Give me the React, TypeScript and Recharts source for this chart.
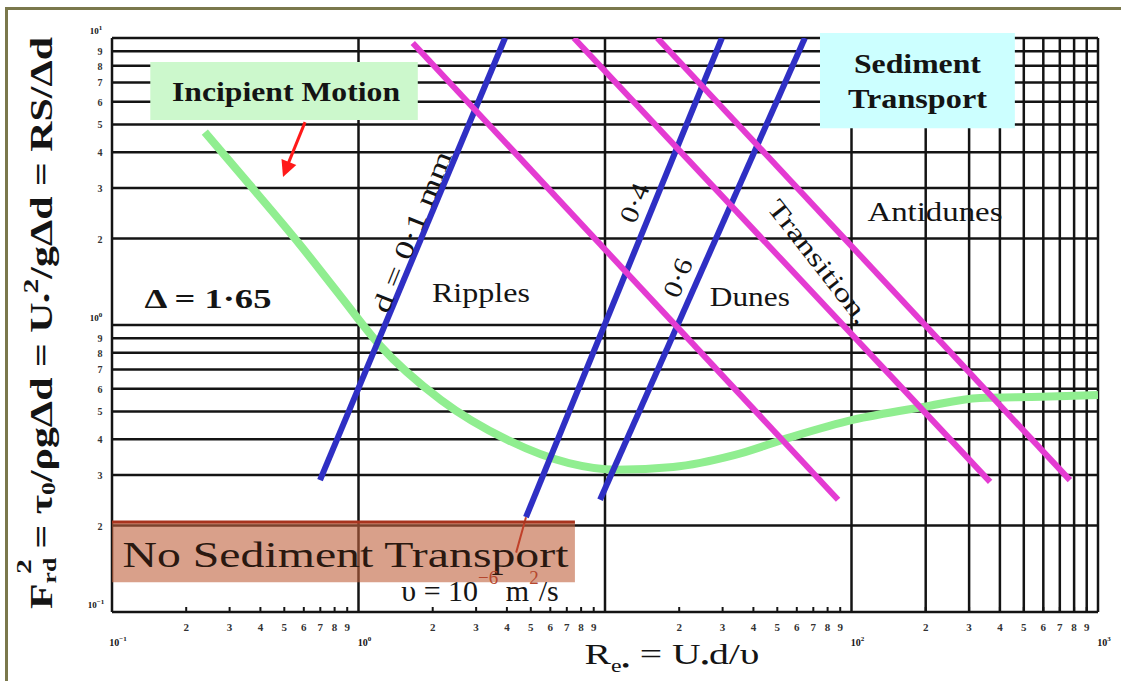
import {
  CartesianGrid,
  Label,
  Line,
  LineChart,
  ReferenceArea,
  ReferenceDot,
  ReferenceLine,
  XAxis,
  YAxis,
} from "recharts";

// log axis ticks (labels 2..9 per decade, 10^n at decades)
const X_TICKS = [
  0.1, 0.2, 0.3, 0.4, 0.5, 0.6, 0.7, 0.8, 0.9,
  1, 2, 3, 4, 5, 6, 7, 8, 9,
  10, 20, 30, 40, 50, 60, 70, 80, 90,
  100, 200, 300, 400, 500, 600, 700, 800, 900, 1000,
];
const Y_TICKS = [
  0.1, 0.2, 0.3, 0.4, 0.5, 0.6, 0.7, 0.8, 0.9,
  1, 2, 3, 4, 5, 6, 7, 8, 9, 10,
];
// gridlines printed on the original chart paper
const X_GRID = [0.1, 1, 10, 100, 200, 300, 400, 500, 600, 700, 800, 900, 1000];
const Y_GRID = Y_TICKS;

// incipient motion curve
const INCIPIENT = [
  { x: 0.238, y: 4.7 },
  { x: 0.363, y: 3.07 },
  { x: 0.58, y: 1.9 },
  { x: 0.84, y: 1.27 },
  { x: 1.22, y: 0.85 },
  { x: 2.16, y: 0.548 },
  { x: 4.04, y: 0.397 },
  { x: 7.14, y: 0.33 },
  { x: 11.1, y: 0.313 },
  { x: 18.9, y: 0.32 },
  { x: 33.4, y: 0.352 },
  { x: 56.9, y: 0.407 },
  { x: 101, y: 0.467 },
  { x: 195, y: 0.518 },
  { x: 332, y: 0.557 },
  { x: 593, y: 0.562 },
  { x: 1000, y: 0.57 },
];

// grain size lines (blue)
const D_01 = [{ x: 0.698, y: 0.288 }, { x: 3.93, y: 10 }];
const D_04 = [{ x: 4.78, y: 0.214 }, { x: 29.8, y: 10 }];
const D_06 = [{ x: 9.55, y: 0.246 }, { x: 64.7, y: 10 }];
const NU_LEADER = [{ x: 4.78, y: 0.214 }, { x: 4.36, y: 0.161 }];

// bedform boundaries (magenta)
const RIPPLE_DUNE = [{ x: 1.66, y: 9.61 }, { x: 88.2, y: 0.246 }];
const DUNE_TRANS = [{ x: 7.48, y: 10 }, { x: 365, y: 0.284 }];
const TRANS_ANTI = [{ x: 16.3, y: 10 }, { x: 769, y: 0.288 }];

const SERIF = '"Liberation Serif", "Times New Roman", serif';
const INK = "#141414";
const BLUE = "#2f2fc4";
const PINK = "#e43bd2";
const GREEN = "#90ee90";
const RUST = "#b5472e";

function decade(v: number) {
  const e = Math.floor(Math.log10(v) + 1e-9);
  const m = Math.round(v / Math.pow(10, e));
  return { e, m };
}

function XTick({ x, y, payload }: any) {
  const { e, m } = decade(payload.value);
  if (m === 1) {
    if (e === 1) return <g />;
    return (
      <text x={x + 6} y={y + 34} fontFamily={SERIF} fontSize={10} fontWeight="bold" fill={INK} textAnchor="middle">
        10
        <tspan dy={-5} fontSize={7}>{e < 0 ? "−1" : e}</tspan>
      </text>
    );
  }
  return (
    <g>
      <line x1={x} x2={x} y1={y - 5} y2={y} stroke={INK} strokeWidth={2} />
      <text x={x} y={y + 19} fontFamily={SERIF} fontSize={11} fontWeight="bold" fill="#333" textAnchor="middle">
        {m}
      </text>
    </g>
  );
}

function YTick({ x, y, payload }: any) {
  const { e, m } = decade(payload.value);
  if (m === 1) {
    return (
      <text x={x - 16} y={y - 4} fontFamily={SERIF} fontSize={9} fontWeight="bold" fill={INK} textAnchor="middle">
        10
        <tspan dy={-4} fontSize={7}>{e < 0 ? "−1" : e}</tspan>
      </text>
    );
  }
  return (
    <text x={x - 12} y={y + 4} fontFamily={SERIF} fontSize={10} fontWeight="bold" fill="#333" textAnchor="middle">
      {m}
    </text>
  );
}

function note(
  key: string,
  x: number,
  y: number,
  text: string,
  size: number,
  length: number,
  opts: { bold?: boolean; rotate?: number } = {}
) {
  return (
    <ReferenceDot
      key={key}
      x={x}
      y={y}
      r={1}
      ifOverflow="visible"
      shape={(p: any) => (
        <text
          x={p.cx}
          y={p.cy}
          textAnchor="middle"
          dominantBaseline="central"
          fontFamily={SERIF}
          fontSize={size}
          fontWeight={opts.bold ? "bold" : "normal"}
          fill={INK}
          textLength={length}
          lengthAdjust="spacingAndGlyphs"
          transform={opts.rotate ? `rotate(${opts.rotate} ${p.cx} ${p.cy})` : undefined}
        >
          {text}
        </text>
      )}
    />
  );
}

export default function App() {
  return (
    <div style={{ position: "absolute", left: 0, top: 0, width: 1121, height: 681, background: "#fff", overflow: "hidden" }}>
      <div
        style={{
          position: "absolute",
          left: 5,
          top: 7,
          width: 1200,
          height: 800,
          borderLeft: "3px solid #7a784c",
          borderTop: "3px solid #7a784c",
        }}
      />
      <div style={{ position: "absolute", left: 0, top: 0 }}>
        <LineChart width={1121} height={681} margin={{ top: 38, right: 23, bottom: 29, left: 72 }}>
          <CartesianGrid
            horizontalValues={Y_GRID}
            verticalValues={X_GRID}
            stroke={INK}
            strokeWidth={2.5}
            strokeDasharray=""
          />
          <XAxis
            dataKey="x"
            type="number"
            scale="log"
            domain={[0.1, 1000]}
            allowDataOverflow
            ticks={X_TICKS}
            interval={0}
            tick={<XTick />}
            tickLine={false}
            axisLine={false}
            tickSize={0}
            tickMargin={0}
            height={40}
          >
            <Label
              content={(p: any) => (
                <text
                  x={p.viewBox.x + 560}
                  y={p.viewBox.y + 52}
                  textAnchor="middle"
                  fontFamily={SERIF}
                  fontSize={30}
                  fill={INK}
                  textLength={175}
                  lengthAdjust="spacingAndGlyphs"
                >
                  R
                  <tspan dy={8} fontSize={18}>e•</tspan>
                  <tspan dy={-8}> = U</tspan>
                  <tspan dy={5} fontSize={18}>•</tspan>
                  <tspan dy={-5}>d/υ</tspan>
                </text>
              )}
            />
          </XAxis>
          <YAxis
            dataKey="y"
            type="number"
            scale="log"
            domain={[0.1, 10]}
            allowDataOverflow
            ticks={Y_TICKS}
            interval={0}
            tick={<YTick />}
            tickLine={false}
            axisLine={false}
            tickSize={0}
            tickMargin={0}
            width={40}
          >
            <Label
              content={(p: any) => {
                const cx = p.viewBox.x - 31;
                const cy = p.viewBox.y + p.viewBox.height / 2 - 2;
                return (
                  <text
                    x={cx}
                    y={cy}
                    textAnchor="middle"
                    dominantBaseline="central"
                    fontFamily={SERIF}
                    fontSize={31}
                    fontWeight="bold"
                    fill={INK}
                    textLength={572}
                    lengthAdjust="spacingAndGlyphs"
                    transform={`rotate(-90 ${cx} ${cy})`}
                  >
                    F
                    <tspan dy={8} fontSize={19}>rd</tspan>
                    <tspan dx={-12} dy={-26} fontSize={22}>2</tspan>
                    <tspan dy={18}>{"  =  τ"}</tspan>
                    <tspan dy={7} fontSize={19}>0</tspan>
                    <tspan dy={-7}>{"/ρgΔd  =  U"}</tspan>
                    <tspan dy={5} fontSize={19}>•</tspan>
                    <tspan dy={-16} fontSize={22}>2</tspan>
                    <tspan dy={11}>{"/gΔd  =  RS/Δd"}</tspan>
                  </text>
                );
              }}
            />
          </YAxis>

          <ReferenceDot
            x={3.11}
            y={0.119}
            r={1}
            ifOverflow="visible"
            shape={(p: any) => (
              <text x={p.cx} y={p.cy} textAnchor="middle" dominantBaseline="central" fontFamily={SERIF} fontSize={30} fill={INK}>
                {"υ = 10"}
                <tspan dy={-13} fontSize={19} fill={RUST}>−6</tspan>
                <tspan dy={13}>{"  m"}</tspan>
                <tspan dy={-13} fontSize={19} fill={RUST}>2</tspan>
                <tspan dy={13}>/s</tspan>
              </text>
            )}
          />

          <Line data={INCIPIENT} dataKey="y" type="monotone" stroke={GREEN} strokeWidth={8} dot={false} isAnimationActive={false} />
          <Line data={D_01} dataKey="y" stroke={BLUE} strokeWidth={6} dot={false} isAnimationActive={false} />
          <Line data={D_04} dataKey="y" stroke={BLUE} strokeWidth={6} dot={false} isAnimationActive={false} />
          <Line data={D_06} dataKey="y" stroke={BLUE} strokeWidth={6} dot={false} isAnimationActive={false} />
          <Line data={NU_LEADER} dataKey="y" stroke="#c0402a" strokeWidth={2} dot={false} isAnimationActive={false} />
          <Line data={RIPPLE_DUNE} dataKey="y" stroke={PINK} strokeWidth={6} dot={false} isAnimationActive={false} />
          <Line data={DUNE_TRANS} dataKey="y" stroke={PINK} strokeWidth={6} dot={false} isAnimationActive={false} />
          <Line data={TRANS_ANTI} dataKey="y" stroke={PINK} strokeWidth={6} dot={false} isAnimationActive={false} />

          <ReferenceArea
            x1={0.1}
            x2={7.55}
            y1={0.127}
            y2={0.206}
            ifOverflow="visible"
            fill="#c0603c"
            fillOpacity={0.6}
            stroke="none"
            label={(p: any) => (
              <text
                x={p.viewBox.x + p.viewBox.width / 2 + 2}
                y={p.viewBox.y + p.viewBox.height / 2 + 3}
                textAnchor="middle"
                dominantBaseline="central"
                fontFamily={SERIF}
                fontSize={36}
                fill="#2a1810"
                textLength={446}
                lengthAdjust="spacingAndGlyphs"
              >
                No Sediment Transport
              </text>
            )}
          />
          <ReferenceLine
            segment={[{ x: 0.1, y: 0.206 }, { x: 7.55, y: 0.206 }]}
            stroke="#a8341e"
            strokeWidth={3}
          />

          <ReferenceArea
            x1={0.143}
            x2={1.74}
            y1={5.18}
            y2={8.25}
            ifOverflow="visible"
            fill="#ccf8cc"
            fillOpacity={1}
            stroke="none"
            label={(p: any) => (
              <text
                x={p.viewBox.x + p.viewBox.width / 2 + 2}
                y={p.viewBox.y + p.viewBox.height / 2 + 1}
                textAnchor="middle"
                dominantBaseline="central"
                fontFamily={SERIF}
                fontSize={28}
                fontWeight="bold"
                fill={INK}
                textLength={228}
                lengthAdjust="spacingAndGlyphs"
              >
                Incipient Motion
              </text>
            )}
          />
          <ReferenceArea
            x1={74.5}
            x2={460}
            y1={4.85}
            y2={10.4}
            ifOverflow="visible"
            fill="#ccffff"
            fillOpacity={1}
            stroke="none"
            label={(p: any) => {
              const cx = p.viewBox.x + p.viewBox.width / 2;
              const cy = p.viewBox.y + p.viewBox.height / 2;
              return (
                <g fontFamily={SERIF} fontSize={28} fontWeight="bold" fill={INK}>
                  <text x={cx} y={cy - 17} textAnchor="middle" dominantBaseline="central" textLength={127} lengthAdjust="spacingAndGlyphs">
                    Sediment
                  </text>
                  <text x={cx} y={cy + 18} textAnchor="middle" dominantBaseline="central" textLength={139} lengthAdjust="spacingAndGlyphs">
                    Transport
                  </text>
                </g>
              );
            }}
          />

          {note("anti", 218, 2.48, "Antidunes", 28, 135)}
          {note("rip", 3.14, 1.3, "Ripples", 28, 98)}
          {note("dun", 38.7, 1.26, "Dunes", 28, 80)}
          {note("delta", 0.245, 1.24, "Δ = 1·65", 28, 127, { bold: true })}
          {note("d01", 1.65, 2.11, "d = 0·1 mm", 26, 172, { rotate: -68 })}
          {note("d04", 13.2, 2.66, "0·4", 26, 40, { rotate: -68 })}
          {note("d06", 19.8, 1.46, "0·6", 26, 40, { rotate: -68 })}
          {note("trans", 73.8, 1.66, "Transition,", 26, 150, { rotate: 52 })}

          <ReferenceLine
            segment={[{ x: 0.607, y: 5.09 }, { x: 0.515, y: 3.6 }]}
            stroke="#ff1a1a"
            strokeWidth={3}
            ifOverflow="visible"
          />
          <ReferenceDot
            x={0.494}
            y={3.28}
            r={1}
            ifOverflow="visible"
            shape={(p: any) => (
              <polygon
                points={`${p.cx},${p.cy} ${p.cx + 13.3},${p.cy - 11.9} ${p.cx - 1.5},${p.cy - 17.9}`}
                fill="#ff1a1a"
              />
            )}
          />
        </LineChart>
      </div>
    </div>
  );
}
